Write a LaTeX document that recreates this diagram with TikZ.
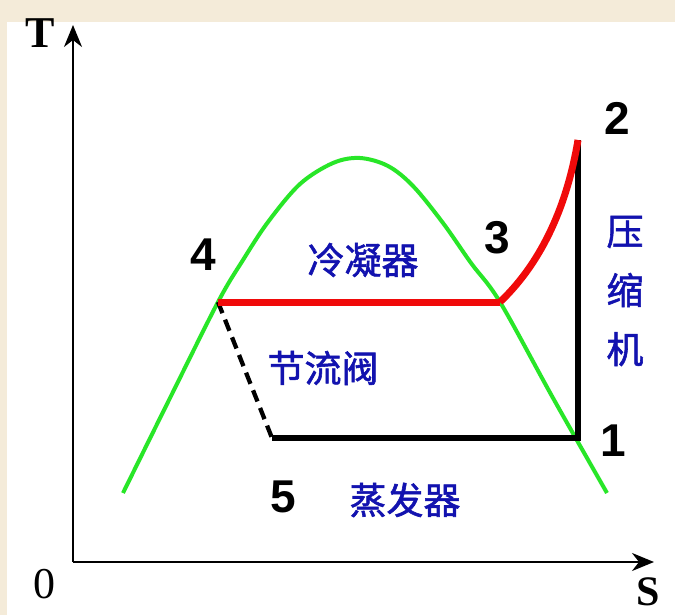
\documentclass[tikz,border=0pt]{standalone}
\usepackage{fontspec}
\setmainfont{Liberation Serif}
\newfontfamily\digitfont{Liberation Sans}
\newfontfamily\cjk[FakeBold=1.5]{Noto Sans CJK SC}
\usetikzlibrary{arrows.meta}
\definecolor{beige}{RGB}{244,235,217}
\definecolor{cgreen}{RGB}{40,230,40}
\definecolor{cred}{RGB}{240,10,10}
\definecolor{cblue}{RGB}{18,18,175}
\tikzset{
  axis/.style={line width=2.2pt,-{Stealth[length=22pt,width=18pt,inset=7pt]}},
  sat/.style={cgreen,line width=4pt},
  redline/.style={cred,line width=7pt},
  blackline/.style={black,line width=5.5pt},
  dashline/.style={black,line width=4.3pt,dash pattern=on 12pt off 7pt},
  numlab/.style={inner sep=0pt,font=\digitfont\bfseries\fontsize{46}{46}\selectfont},
  axlab/.style={inner sep=0pt,font=\fontsize{44}{44}\selectfont},
  cnlab/.style={inner sep=0pt,text=cblue,font=\cjk\fontsize{37}{37}\selectfont}
}
\begin{document}
\begin{tikzpicture}[x=1pt,y=-1pt]
\useasboundingbox (0,0) rectangle (675,615);
\fill[white] (0,0) rectangle (675,615);
\fill[beige] (0,0) rectangle (675,22);
\fill[beige] (0,0) rectangle (7,615);
% axes
\coordinate (O) at (73,562);
\coordinate (Ttip) at (73,25);
\coordinate (Stip) at (654,562);
\draw[axis] (O) -- (Ttip);
\draw[axis] (O) -- (Stip);
\node[axlab,font=\bfseries\fontsize{44}{44}\selectfont] (T) at (40,33) {T};
\node[axlab,font=\bfseries\fontsize{42}{42}\selectfont] (S) at (648,592) {S};
\node[axlab] (zero) at (44,584) {0};
% saturation curve
\draw[sat] plot[smooth,tension=0.55] coordinates {(123,493) (170,398) (218,302) (243,260) (268,222) (300,184) (333,163) (360,158) (388,166) (413,186) (443,223) (471,263) (500,302) (553,398) (607,493)};
% state points
\coordinate (p1) at (578,438);
\coordinate (p2) at (578,140);
\coordinate (p3) at (500,302);
\coordinate (p4) at (218,302);
\coordinate (p5) at (272,438);
% cycle
\draw[dashline] (p4) -- (p5);
\draw[blackline,line join=miter] (p5) -- (p1) -- (p2);
\draw[redline] (p4) -- (p3);
\draw[redline] (p3) .. controls (538,266) and (566,212) .. (p2);
% labels
\node[numlab] (l1) at (613,441) {1};
\node[numlab] (l2) at (617,118) {2};
\node[numlab] (l3) at (497,238) {3};
\node[numlab] (l4) at (203,255) {4};
\node[numlab] (l5) at (283,497) {5};
\node[cnlab] (cond) at (363,260) {冷凝器};
\node[cnlab] (valve) at (323,368) {节流阀};
\node[cnlab] (evap) at (405,500) {蒸发器};
\node[cnlab,align=center] (comp) at (625,291) {压\\[22pt]缩\\[22pt]机};
\end{tikzpicture}
\end{document}
